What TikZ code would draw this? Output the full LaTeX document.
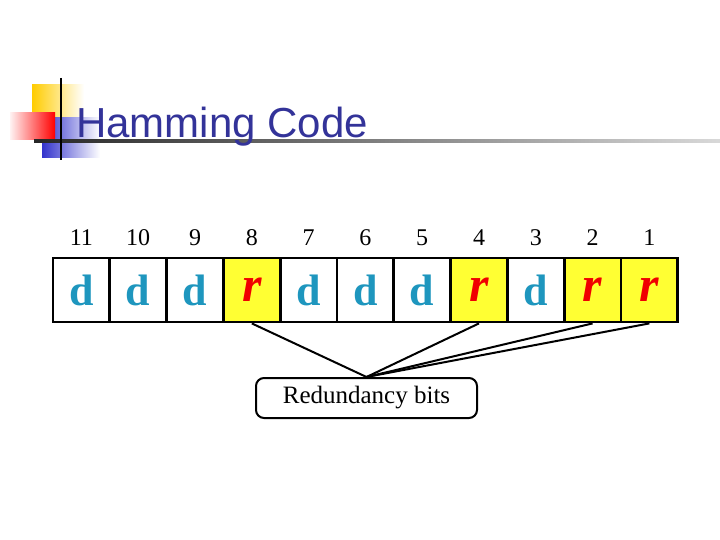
\documentclass[tikz,border=0pt]{standalone}
\usepackage{fontspec}
\setmainfont{Liberation Serif}
\newfontfamily\titlefont{Liberation Sans}
\definecolor{titleblue}{HTML}{333399}
\definecolor{dteal}{HTML}{1E96BE}
\definecolor{ryellow}{HTML}{FFFF33}
\definecolor{rred}{HTML}{F00000}
\definecolor{decoyellow}{HTML}{FFCC00}
\definecolor{decoblue}{HTML}{3333CC}
\begin{document}
\begin{tikzpicture}[x=1pt, y=-1pt,
		cell/.style={draw, line width=2.8pt, minimum width=56.8pt, minimum height=64pt, inner sep=0pt},
		dbit/.style={cell, fill=white, text=dteal, font=\fontsize{44}{44}\selectfont\bfseries},
		rbit/.style={cell, fill=ryellow, text=rred, font=\fontsize{50}{50}\selectfont\bfseries\itshape},
		posnum/.style={font=\fontsize{24}{24}\selectfont},
		link/.style={line width=2pt}]
	\useasboundingbox (0,0) rectangle (720,540);
	% title decoration
	\shade[left color=decoyellow, right color=white] (32,85) rectangle (84,120);
	\shade[left color=decoblue, right color=white] (42,118) rectangle (100,158);
	\shade[left color=red!5, right color=red] (10,113) rectangle (55,140);
	\shade[left color=black!85, right color=black!15] (34,140) rectangle (720,142.5);
	\draw[line width=2pt] (61,78) -- (61,160);
	\node[anchor=base west, inner sep=0pt, text=titleblue, font=\titlefont\fontsize{42}{42}\selectfont] (title) at (76,138) {Hamming Code};
	% the bits
	\foreach \i/\t in {11/d,10/d,9/d,8/r,7/d,6/d,5/d,4/r,3/d,2/r,1/r} {
			\pgfmathsetmacro{\cx}{53+(11-\i)*56.8+28.4}
			\node[\t bit] (c\i) at (\cx,290) {\t};
			\node[posnum] (n\i) at (\cx,238) {\i};
		}
	\node[draw, rounded corners=8pt, line width=2pt, minimum width=221pt, minimum height=40pt,
		font=\fontsize{25}{25}\selectfont] (redund) at (366.5,398) {Redundancy bits};
	\foreach \i in {8,4,2,1}
	\draw[link] (c\i.south) -- (redund.north);
\end{tikzpicture}
\end{document}
